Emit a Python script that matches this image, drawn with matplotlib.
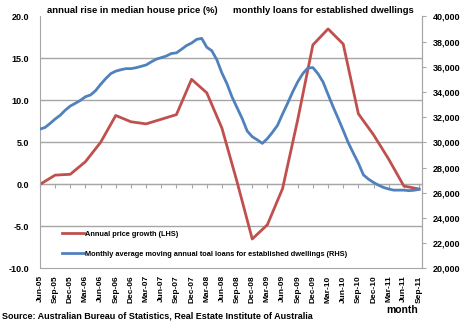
import numpy as np
import matplotlib
matplotlib.use("Agg")
import matplotlib.pyplot as plt
from matplotlib.ticker import FuncFormatter

plt.rcParams['font.family'] = ['Liberation Sans', 'DejaVu Sans']
plt.rcParams['font.weight'] = 'bold'

quarter_labels = ['Jun-05', 'Sep-05', 'Dec-05', 'Mar-06', 'Jun-06', 'Sep-06', 'Dec-06',
                  'Mar-07', 'Jun-07', 'Sep-07', 'Dec-07', 'Mar-08', 'Jun-08', 'Sep-08',
                  'Dec-08', 'Mar-09', 'Jun-09', 'Sep-09', 'Dec-09', 'Mar-10', 'Jun-10',
                  'Sep-10', 'Dec-10', 'Mar-11', 'Jun-11', 'Sep-11']

# annual price growth, % (quarterly)
price_growth = [0.0, 1.1, 1.2, 2.7, 5.0, 8.2, 7.45, 7.2, 7.75, 8.3, 12.5, 10.9, 6.7,
                0.3, -6.5, -4.8, -0.5, 7.7, 16.6, 18.5, 16.7, 8.4, 5.9, 3.0, -0.2, -0.55]

# monthly loans for established dwellings (monthly, Jun-05 .. Sep-11)
loans = [31050, 31180, 31500, 31850, 32150, 32550, 32880, 33100, 33330, 33620,
         33760, 34100, 34600, 35050, 35450, 35650, 35760, 35850, 35850, 35920,
         36030, 36140, 36380, 36600, 36720, 36850, 37050, 37100, 37380, 37680,
         37880, 38170, 38250, 37550, 37270, 36550, 35500, 34650, 33600, 32750,
         31900, 30900, 30450, 30200, 29920, 30300, 30800, 31350, 32250, 33100,
         34000, 34800, 35450, 35900, 35930, 35450, 34800, 33800, 32820, 31900,
         30950, 29970, 29150, 28350, 27420, 27080, 26820, 26600, 26420, 26300,
         26210, 26210, 26210, 26170, 26200, 26270]

months = np.arange(len(loans))
quarters = np.arange(len(price_growth)) * 3

grey = '#a6a6a6'
red = '#c0504d'
blue = '#4f81bd'

fig = plt.figure(figsize=(4.7, 3.23), dpi=100)
ax = fig.add_axes([0.085, 0.169, 0.813, 0.7805])
ax2 = ax.twinx()

l1, = ax.plot(quarters, price_growth, color=red, lw=2, label='Annual price growth (LHS)')
l2, = ax2.plot(months, loans, color=blue, lw=2,
               label='Monthly average moving annual toal loans for established dwellings (RHS)')

ax.set_xlim(0, 75.6)
ax.set_ylim(-10, 20)
ax.set_yticks(np.arange(-10, 21, 5))
ax.yaxis.set_major_formatter(FuncFormatter(lambda v, p: f'{v:.1f}'))
ax.tick_params(axis='y', length=0, labelsize=6.5, pad=8)
ax.grid(axis='y', color=grey, lw=1)
ax.get_ygridlines()[-1].set_visible(False)
ax.get_ygridlines()[0].set_visible(False)
ax.set_axisbelow(True)

ax.set_xticks(quarters)
ax.set_xticklabels(quarter_labels, rotation=90, fontsize=6)
ax.tick_params(axis='x', length=0, pad=5)

ax.spines['top'].set_visible(False)
for s in ['left', 'bottom', 'right']:
    ax.spines[s].set_color(grey)

ax2.set_ylim(20000, 40000)
ax2.set_yticks(np.arange(20000, 40001, 2000))
ax2.yaxis.set_major_formatter(FuncFormatter(lambda v, p: f'{int(v):,}'))
ax2.tick_params(axis='y', length=3, color=grey, labelsize=6.5, pad=5)
for s in ['top', 'left', 'bottom']:
    ax2.spines[s].set_visible(False)
ax2.spines['right'].set_color(grey)

# category axis crosses at zero
sec = ax.secondary_xaxis(1 / 3)
sec.set_xticks(quarters)
sec.set_xticklabels([])
sec.tick_params(axis='x', length=3, color=grey, direction='out')
sec.spines['bottom'].set_color(grey)

ax2.legend(handles=[l1, l2], loc='lower left', bbox_to_anchor=(0.04, 0.015),
           frameon=False, fontsize=5.3, labelspacing=1.75, handlelength=3.0,
           handletextpad=0.2, borderaxespad=0.5)

fig.text(0.281, 0.968, 'annual rise in median house price (%)', ha='center', va='center', fontsize=6.8)
fig.text(0.689, 0.968, 'monthly loans for established dwellings', ha='center', va='center', fontsize=6.8)
fig.text(0.855, 0.04, 'month', ha='center', va='center', fontsize=7.5)
fig.text(0.005, 0.022, 'Source: Australian Bureau of Statistics, Real Estate Institute of Australia',
         ha='left', va='center', fontsize=6.5)

fig.savefig('out.png', dpi=100)
